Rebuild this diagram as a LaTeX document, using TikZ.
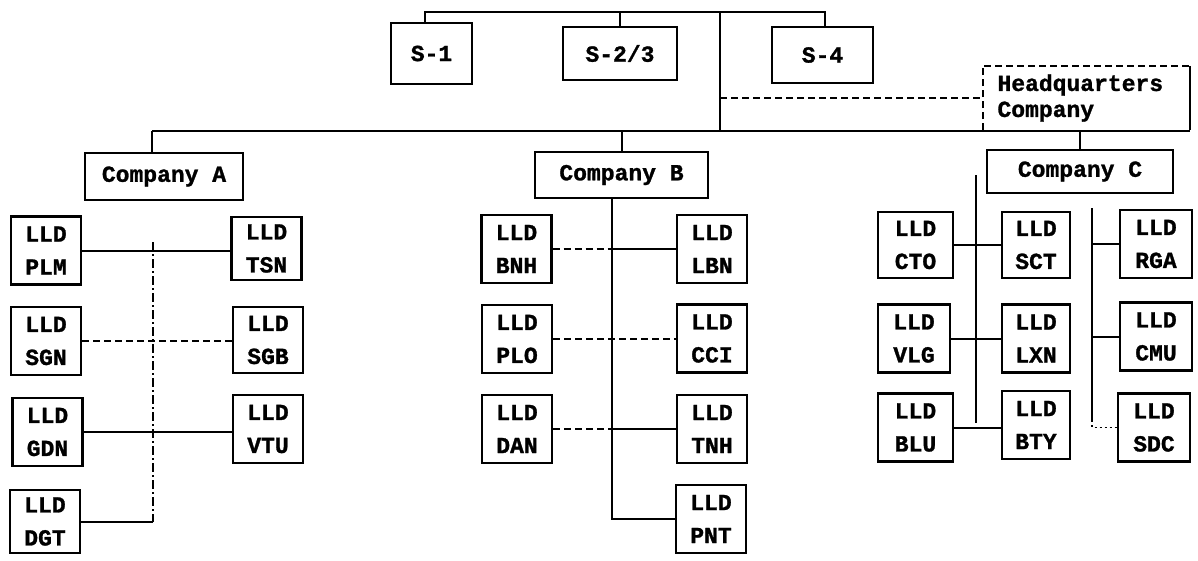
\documentclass[tikz,border=0pt]{standalone}
\usepackage{fontspec}
\setmainfont{Liberation Mono}[BoldFeatures={FakeBold=1.2}]
\begin{document}
\begin{tikzpicture}[x=1pt,y=-1pt,
  every node/.style={font=\fontsize{23}{33}\selectfont\bfseries},
  box/.style={draw, line width=2.2pt, inner sep=0pt, align=center},
  unit/.style={box, minimum width=70pt, minimum height=68pt},
  conn/.style={line width=2pt},
  dconn/.style={line width=1.8pt, dash pattern=on 7pt off 4pt},
  dotconn/.style={line width=1.6pt, dash pattern=on 2pt off 3pt}]
\useasboundingbox (0,0) rectangle (1198,560);

% staff sections
\node[box, minimum width=81pt, minimum height=61pt] (s1) at (431.5,53.5) {S-1};
\node[box, minimum width=114pt, minimum height=53pt] (s23) at (620,53.5) {S-2/3};
\node[box, minimum width=101pt, minimum height=56pt] (s4) at (822.5,55) {S-4};

% headquarters company
\node[inner sep=0pt, minimum width=207pt, minimum height=64pt,
      text width=178pt, align=left,
      font=\fontsize{23}{26}\selectfont\bfseries] (hq) at (1086.5,98) {Headquarters\\Company};
\draw[dconn] (hq.south west) -- (hq.north west) -- (hq.north east);
\draw[line width=2.2pt] (hq.north east) -- (hq.south east);

% companies
\node[box, minimum width=158pt, minimum height=47pt] (ca) at (164,176.5) {Company A};
\node[box, minimum width=173pt, minimum height=46pt] (cb) at (621.5,175) {Company B};
\node[box, minimum width=186pt, minimum height=43pt] (cc) at (1080,171.5) {Company C};

% company A units
\node[unit] (plm) at (46,250.5) {LLD\\PLM};
\node[unit] (sgn) at (46,341) {LLD\\SGN};
\node[unit] (gdn) at (47.5,432) {LLD\\GDN};
\node[unit, minimum height=63pt] (dgt) at (45,521.5) {LLD\\DGT};
\node[unit, minimum height=63pt] (tsn) at (266.5,248.5) {LLD\\TSN};
\node[unit, minimum height=66pt] (sgb) at (268,340) {LLD\\SGB};
\node[unit] (vtu) at (268,429) {LLD\\VTU};

% company B units
\node[unit] (bnh) at (516.5,249) {LLD\\BNH};
\node[unit] (plo) at (517,339) {LLD\\PLO};
\node[unit] (dan) at (517,429) {LLD\\DAN};
\node[unit] (lbn) at (712,249) {LLD\\LBN};
\node[unit] (cci) at (712,338.5) {LLD\\CCI};
\node[unit] (tnh) at (712,429) {LLD\\TNH};
\node[unit] (pnt) at (711,519) {LLD\\PNT};

% company C units
\node[unit, minimum width=75pt, minimum height=66pt] (cto) at (915.5,245) {LLD\\CTO};
\node[unit, minimum width=72pt] (vlg) at (914,338.5) {LLD\\VLG};
\node[unit, minimum width=75pt] (blu) at (915.5,427.5) {LLD\\BLU};
\node[unit, minimum width=68pt, minimum height=66pt] (sct) at (1036,245) {LLD\\SCT};
\node[unit, minimum width=68pt] (lxn) at (1036,338.5) {LLD\\LXN};
\node[unit, minimum width=68pt] (bty) at (1036,425) {LLD\\BTY};
\node[unit, minimum width=72pt] (rga) at (1156,244) {LLD\\RGA};
\node[unit, minimum width=72pt] (cmu) at (1156,336.5) {LLD\\CMU};
\node[unit, minimum width=72pt] (sdc) at (1154,427.5) {LLD\\SDC};

% top bar
\coordinate (t1) at (425,12);
\coordinate (t4) at (825,12);
\coordinate (m) at (720,12);
\coordinate (mb) at (720,131);
\draw[conn] (t1|-s1.north) -- (t1) -- (t4) -- (t4|-s4.north);
\draw[conn] (s23.north) -- (s23.north|-t1);
\draw[conn] (m) -- (mb);
\draw[dconn] (m|-hq.west) -- (hq.west);

% company bar
\coordinate (cbl) at (152,131);
\draw[conn] (cbl) -- (cbl-|hq.east);
\draw[conn] (cbl) -- (cbl|-ca.north);
\draw[conn] (cb.north) -- (cb.north|-cbl);
\draw[conn] (cc.north) -- (cc.north|-cbl);

% company A connectors
\coordinate (av) at (153,242);
\draw[line width=1.8pt, dash pattern=on 9pt off 3pt on 2pt off 3pt] (av) -- (av|-dgt.east);
\draw[conn] (av|-dgt.east) -- (dgt.east);
\draw[conn] (plm.east) -- (tsn.west|-plm.east);
\draw[dconn] (sgn.east) -- (sgb.west|-sgn.east);
\draw[conn] (gdn.east) -- (vtu.west|-gdn.east);

% company B connectors
\coordinate (bv) at (612,0);
\draw[conn] (bv|-cb.south) |- (pnt.west);
\draw[dconn] (bnh.east) -- (bv|-bnh.east);
\draw[conn] (bv|-bnh.east) -- (lbn.west);
\draw[dconn] (plo.east) -- (cci.west|-plo.east);
\draw[dconn] (dan.east) -- (bv|-dan.east);
\draw[conn] (bv|-dan.east) -- (tnh.west|-dan.east);

% company C connectors
\coordinate (c1t) at (976,175);
\coordinate (c1b) at (976,423);
\draw[conn] (c1t) -- (c1b);
\draw[conn] (cto.east) -- (sct.west|-cto.east);
\draw[conn] (vlg.east) -- (lxn.west|-vlg.east);
\draw[conn] (blu.east) -- (bty.west|-blu.east);
\coordinate (c2t) at (1092,208);
\coordinate (c2b) at (1092,420);
\draw[conn] (c2t) -- (c2b);
\draw[dotconn] (c2b) |- (sdc.west);
\draw[conn] (rga.west) -- (rga.west-|c2t);
\draw[conn] (cmu.west) -- (cmu.west-|c2t);
\end{tikzpicture}
\end{document}
